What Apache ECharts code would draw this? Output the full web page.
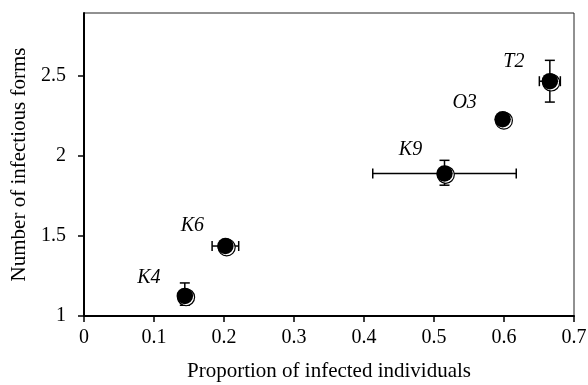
<!DOCTYPE html>
<html>
<head>
<meta charset="utf-8">
<script src="https://cdn.jsdelivr.net/npm/echarts@6/dist/echarts.min.js"></script>
<style>html,body{margin:0;padding:0;background:#fff}#c{width:588px;height:385px}</style>
</head>
<body>
<div id="c"></div>
<script>
var names = ['K4', 'K6', 'K9', 'O3', 'T2'];
var xValues = [0.144, 0.202, 0.515, 0.598, 0.6655];
var yValues = [1.125, 1.436, 1.888, 2.226, 2.463];
var xErr = [0, 0.019, 0.1025, 0, 0.015];
var yErrHigh = [0.081, 0, 0.082, 0, 0.13];
var yErrLow = [0.058, 0, 0.073, 0, 0.13];
var xTicks = [0, 0.1, 0.2, 0.3, 0.4, 0.5, 0.6, 0.7];
var yTicks = [1, 1.5, 2, 2.5];

var labelOffsets = [[-36, -18], [-33, -20], [-34, -24], [-38, -16], [-36, -19]];

var chart = echarts.init(document.getElementById('c'));
var serif = '"Liberation Serif", "DejaVu Serif", serif';

var errData = names.map(function (n, i) {
  return [xValues[i], yValues[i], xErr[i], yErrLow[i], yErrHigh[i]];
});
var ptData = names.map(function (n, i) {
  return {
    value: [xValues[i], yValues[i]],
    name: n,
    label: { offset: labelOffsets[i] }
  };
});

function renderErr(params, api) {
  var x = api.value(0), y = api.value(1);
  var ex = api.value(2), el = api.value(3), eh = api.value(4);
  var children = [];
  var cap = 5;
  var st = { stroke: '#000', lineWidth: 1.5 };
  if (ex > 0) {
    var a = api.coord([x - ex, y]), b = api.coord([x + ex, y]);
    children.push({ type: 'line', shape: { x1: a[0], y1: a[1], x2: b[0], y2: b[1] }, style: st });
    children.push({ type: 'line', shape: { x1: a[0], y1: a[1] - cap, x2: a[0], y2: a[1] + cap }, style: st });
    children.push({ type: 'line', shape: { x1: b[0], y1: b[1] - cap, x2: b[0], y2: b[1] + cap }, style: st });
  }
  if (el > 0 || eh > 0) {
    var c = api.coord([x, y - el]), d = api.coord([x, y + eh]);
    children.push({ type: 'line', shape: { x1: c[0], y1: c[1], x2: d[0], y2: d[1] }, style: st });
    children.push({ type: 'line', shape: { x1: c[0] - cap, y1: c[1], x2: c[0] + cap, y2: c[1] }, style: st });
    children.push({ type: 'line', shape: { x1: d[0] - cap, y1: d[1], x2: d[0] + cap, y2: d[1] }, style: st });
  }
  return { type: 'group', children: children };
}

chart.setOption({
  animation: false,
  backgroundColor: '#fff',
  grid: {
    left: 84, right: 14, top: 13, bottom: 69,
    outerBoundsMode: 'none', containLabel: false,
    show: true, borderColor: '#222', borderWidth: 1, backgroundColor: 'transparent'
  },
  xAxis: {
    type: 'value', min: 0, max: 0.7, interval: 0.1,
    name: 'Proportion of infected individuals',
    nameLocation: 'middle', nameGap: 45,
    nameTextStyle: { fontFamily: serif, fontSize: 21, color: '#000' },
    axisLine: { onZero: false, lineStyle: { color: '#000', width: 2 } },
    axisTick: { show: true, length: 6, lineStyle: { color: '#000', width: 1.5 }, customValues: xTicks },
    axisLabel: {
      fontFamily: serif, fontSize: 20, color: '#000', margin: 12,
      customValues: xTicks,
      formatter: function (v) { return String(Math.round(v * 10) / 10); }
    },
    splitLine: { show: false }
  },
  yAxis: {
    type: 'value', min: 1, max: 2.888, interval: 0.5,
    name: 'Number of infectious forms',
    nameLocation: 'middle', nameGap: 54,
    nameTextStyle: { fontFamily: serif, fontSize: 21, color: '#000' },
    axisLine: { onZero: false, lineStyle: { color: '#000', width: 2 } },
    axisTick: { show: true, length: 6, lineStyle: { color: '#000', width: 1.5 }, customValues: yTicks },
    axisLabel: {
      fontFamily: serif, fontSize: 20, color: '#000', margin: 18,
      customValues: yTicks,
      formatter: function (v) { return String(Math.round(v * 10) / 10); }
    },
    splitLine: { show: false }
  },
  series: [
    {
      type: 'custom', renderItem: renderErr, data: errData, z: 2,
      encode: { x: 0, y: 1 }
    },
    {
      type: 'scatter', data: xValues.map(function (x, i) { return [x, yValues[i]]; }),
      symbol: 'circle', symbolSize: 17, symbolOffset: [1.3, 1.3],
      itemStyle: { color: '#fff', borderColor: '#000', borderWidth: 1.2, opacity: 1 },
      z: 3, silent: true
    },
    {
      type: 'scatter', data: ptData,
      symbol: 'circle', symbolSize: 16.5,
      itemStyle: { color: '#000', opacity: 1 },
      label: {
        show: true, position: 'inside',
        formatter: '{b}',
        fontFamily: serif, fontSize: 20, fontStyle: 'italic', color: '#000'
      },
      z: 4
    }
  ]
});
</script>
</body>
</html>
